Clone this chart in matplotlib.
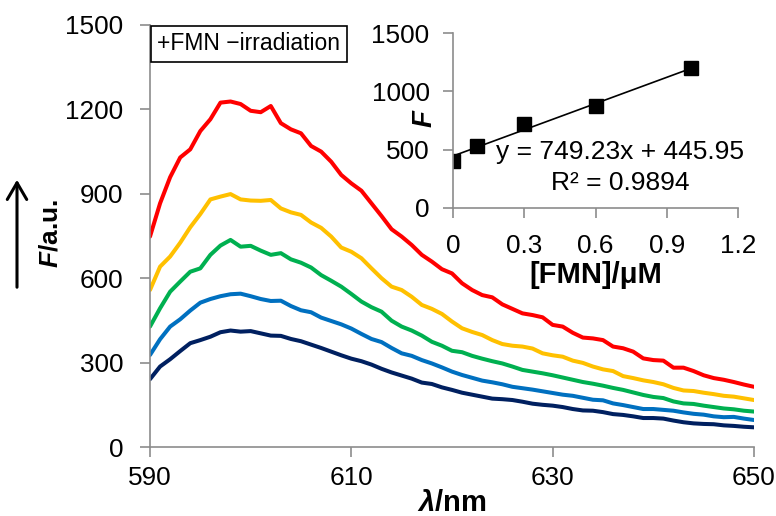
import numpy as np
import matplotlib
matplotlib.use('Agg')
import matplotlib.pyplot as plt

plt.rcParams['font.family'] = ['Liberation Sans', 'DejaVu Sans']
plt.rcParams['mathtext.fontset'] = 'custom'
plt.rcParams['mathtext.rm'] = 'Liberation Sans'
plt.rcParams['mathtext.bf'] = 'Liberation Sans:bold'
plt.rcParams['mathtext.bfit'] = 'Liberation Sans:italic:bold'

# emission spectra, one per FMN concentration
wavelength = np.arange(590, 651)

f_0 = [241, 286, 312, 341, 369, 380, 392, 408, 414, 410,
       412, 404, 396, 395, 384, 376, 364, 352, 339, 326,
       314, 305, 293, 278, 265, 254, 243, 229, 224, 212,
       203, 193, 186, 179, 172, 170, 167, 161, 154, 150,
       147, 142, 135, 130, 129, 124, 117, 114, 109, 103,
       103, 101, 94, 88, 84, 82, 81, 77, 75, 72, 70]
f_01 = [327, 383, 428, 454, 485, 513, 526, 536, 543, 545,
        536, 526, 519, 520, 501, 486, 479, 460, 448, 436,
        421, 402, 384, 373, 352, 333, 324, 309, 297, 283,
        268, 256, 246, 236, 230, 223, 214, 209, 204, 198,
        192, 186, 182, 175, 168, 166, 155, 149, 142, 135,
        135, 132, 129, 123, 118, 115, 109, 106, 107, 101, 96]
f_03 = [428, 493, 552, 588, 623, 635, 683, 716, 736, 712,
        715, 698, 683, 689, 667, 655, 638, 611, 591, 570,
        544, 517, 497, 481, 449, 428, 414, 396, 374, 360,
        342, 337, 324, 314, 305, 297, 286, 274, 268, 262,
        255, 247, 239, 231, 225, 218, 210, 203, 194, 185,
        178, 174, 162, 155, 153, 147, 142, 137, 134, 129, 126]
f_06 = [558, 641, 677, 726, 781, 828, 880, 890, 899, 880,
        876, 875, 878, 848, 834, 825, 798, 779, 748, 709,
        694, 671, 635, 600, 570, 558, 534, 505, 491, 473,
        446, 422, 409, 398, 380, 366, 360, 357, 350, 333,
        326, 321, 307, 299, 286, 276, 270, 252, 245, 237,
        231, 223, 210, 201, 199, 193, 188, 182, 179, 173, 167]
f_10 = [748, 866, 959, 1029, 1058, 1123, 1165, 1224, 1228, 1219,
        1195, 1190, 1212, 1151, 1129, 1115, 1070, 1050, 1014, 967,
        937, 911, 866, 821, 774, 748, 718, 683, 659, 632,
        617, 582, 558, 540, 532, 507, 491, 475, 469, 461,
        434, 428, 406, 389, 386, 380, 357, 351, 339, 315,
        309, 307, 282, 282, 270, 255, 245, 239, 231, 222, 214]

spectra = [f_0, f_01, f_03, f_06, f_10]
colors = ['#002060', '#0070C0', '#00B050', '#FFC000', '#FF0000']

# calibration (inset)
conc = [0, 0.1, 0.3, 0.6, 1.0]
f_peak = [403, 534, 717, 874, 1197]
slope, intercept = 749.23, 445.95

grey = '#8C8C8C'

fig = plt.figure(figsize=(7.76, 5.16), dpi=100)
ax = fig.add_axes([0.1933, 0.1337, 0.7783, 0.8179])
for f, c in zip(spectra, colors):
    ax.plot(wavelength, f, color=c, lw=2.9, solid_joinstyle='round',
            solid_capstyle='round')
ax.set_xlim(590, 650)
ax.set_ylim(0, 1500)
ax.set_xticks([590, 610, 630, 650])
ax.set_yticks([0, 300, 600, 900, 1200, 1500])
for s in ['top', 'right']:
    ax.spines[s].set_visible(False)
for s in ['left', 'bottom']:
    ax.spines[s].set_color(grey)
    ax.spines[s].set_linewidth(1.2)
ax.tick_params(direction='out', length=7, width=1.2, color=grey,
               labelsize=18.8)
ax.tick_params(axis='y', pad=12)
ax.tick_params(axis='x', pad=7)
ax.set_xlabel(r'$\mathbfit{\lambda}$/nm', fontsize=21, fontweight='bold', labelpad=-1)
fig.text(0.065, 0.548, r'$\mathbfit{F}$/a.u.', rotation=90, fontsize=19,
         fontweight='bold', ha='center', va='center')
fig.add_artist(matplotlib.patches.FancyArrowPatch(
    (17 / 776, 1 - 290 / 516), (17 / 776, 1 - 177 / 516),
    transform=fig.transFigure, arrowstyle='->,head_length=0.6,head_width=0.35',
    mutation_scale=20, lw=2.2, color='black'))

ax.text(0.012, 0.983, '+FMN \u2212irradiation', transform=ax.transAxes,
        fontsize=16.5, ha='left', va='top',
        bbox=dict(boxstyle='square,pad=0.28', fc='white', ec='black', lw=1.2))

# inset: peak intensity vs concentration
ins = fig.add_axes([0.584, 0.597, 0.367, 0.339])
ins.patch.set_alpha(0)
xfit = np.array([0, 1.0])
ins.plot(xfit, slope * xfit + intercept, color='black', lw=1.2)
ins.plot(conc, f_peak, 's', color='black', ms=10)
ins.set_xlim(0, 1.2)
ins.set_ylim(0, 1500)
ins.set_xticks([0, 0.3, 0.6, 0.9, 1.2])
ins.set_xticklabels(['0', '0.3', '0.6', '0.9', '1.2'])
ins.set_yticks([0, 500, 1000, 1500])
for s in ['top', 'right']:
    ins.spines[s].set_visible(False)
for s in ['left', 'bottom']:
    ins.spines[s].set_color(grey)
    ins.spines[s].set_linewidth(1.2)
ins.tick_params(direction='out', length=7, width=1.2, color=grey,
                labelsize=18.8)
ins.tick_params(axis='y', pad=10)
ins.tick_params(axis='x', pad=12)
ins.set_xlabel('[FMN]/\u03bcM', fontsize=21, fontweight='bold', labelpad=2)
ins.set_ylabel(r'$\mathbfit{F}$', fontsize=20, fontweight='bold')
ins.yaxis.set_label_coords(-0.055, 0.514)
ins.text(0.586, 0.32, 'y = 749.23x + 445.95', transform=ins.transAxes,
         fontsize=19, ha='center', va='center')
ins.text(0.588, 0.142, 'R\u00b2 = 0.9894', transform=ins.transAxes,
         fontsize=19, ha='center', va='center')

fig.savefig('out.png', dpi=100)
